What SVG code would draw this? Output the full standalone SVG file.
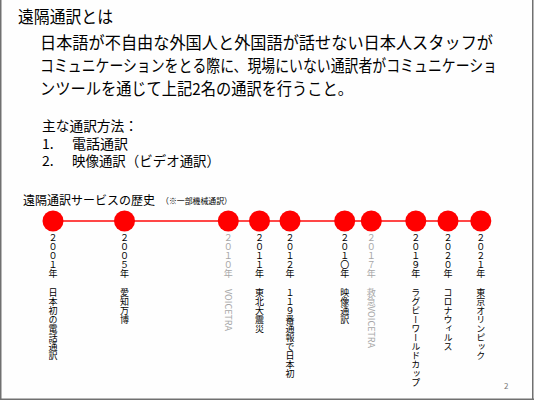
<svg xmlns="http://www.w3.org/2000/svg" width="534" height="400" viewBox="0 0 534 400">
<style>
text{font-family:"Meiryo UI","Noto Sans CJK JP","Noto Sans",sans-serif;fill:#000}
.body{font-size:16.5px}
.mid{font-size:14px}
.v{font-size:9px;writing-mode:vertical-rl;text-anchor:start}
.g{fill:#a6a6a6}
.dot{fill:#ff0000}
</style>
<rect x="0" y="0" width="534" height="400" fill="#fefefe"/>
<g id="frame" stroke="#707070" stroke-width="1.5" fill="none">
<line x1="0.75" y1="0" x2="0.75" y2="400"/>
<line x1="532.75" y1="0" x2="532.75" y2="400"/>
<line x1="0" y1="399.25" x2="534" y2="399.25"/>
</g>
<g id="intro">
<text class="body" x="18" y="23" textLength="95" lengthAdjust="spacingAndGlyphs">遠隔通訳とは</text>
<text class="body" x="40" y="49" textLength="453" lengthAdjust="spacingAndGlyphs">日本語が不自由な外国人と外国語が話せない日本人スタッフが</text>
<text class="body" x="40" y="72" textLength="457" lengthAdjust="spacingAndGlyphs">コミュニケーションをとる際に、現場にいない通訳者がコミュニケーショ</text>
<text class="body" x="40" y="95" textLength="313" lengthAdjust="spacingAndGlyphs">ンツールを通じて上記2名の通訳を行うこと。</text>
</g>
<g id="methods">
<text class="mid" x="42" y="131" textLength="96" lengthAdjust="spacingAndGlyphs">主な通訳方法：</text>
<text class="mid" x="42" y="149">1.</text>
<text class="mid" x="72" y="149" textLength="56" lengthAdjust="spacingAndGlyphs">電話通訳</text>
<text class="mid" x="42" y="166">2.</text>
<text class="mid" x="72" y="166" textLength="148" lengthAdjust="spacingAndGlyphs">映像通訳（ビデオ通訳）</text>
</g>
<g id="history-title">
<text x="23" y="205" style="font-size:12.5px" textLength="132" lengthAdjust="spacingAndGlyphs">遠隔通訳サービスの歴史</text>
<text x="161" y="204" style="font-size:8px" textLength="71" lengthAdjust="spacingAndGlyphs">（※一部機械通訳）</text>
</g>
<g id="connectors">
<line x1="53" y1="221" x2="481" y2="221" stroke="#ff4747" stroke-width="2"/>
</g>
<g id="e2001"><circle class="dot" cx="53" cy="221" r="10.5"/><text class="v" x="53" y="233">２００１年</text><text class="v" x="53" y="288">日本初の電話通訳</text></g>
<g id="e2005"><circle class="dot" cx="124.5" cy="221" r="10.5"/><text class="v" x="124.5" y="233">２００５年</text><text class="v" x="124.5" y="288">愛知万博</text></g>
<g id="e2010"><circle class="dot" cx="228.3" cy="221" r="10.5"/><text class="v g" x="228.3" y="233">２０１０年</text><text class="v g" x="228.3" y="289">VOICETRA</text></g>
<g id="e2011"><circle class="dot" cx="259.5" cy="221" r="10.5"/><text class="v" x="259.5" y="233">２０１１年</text><text class="v" x="259.5" y="288">東北大震災</text></g>
<g id="e2012"><circle class="dot" cx="290" cy="221" r="10.5"/><text class="v" x="290" y="233">２０１２年</text><text class="v" x="290" y="288">１１９番通報で日本初</text></g>
<g id="e201x"><circle class="dot" cx="344.7" cy="221" r="10.5"/><text class="v" x="344.7" y="233">２０１〇年</text><text class="v" x="344.7" y="288">映像通訳</text></g>
<g id="e2017"><circle class="dot" cx="371.3" cy="221" r="10.5"/><text class="v g" x="371.3" y="233">２０１７年</text><text class="v g" x="371.3" y="288">救急VOICETRA</text></g>
<g id="e2019"><circle class="dot" cx="415.8" cy="221" r="10.5"/><text class="v" x="415.8" y="233">２０１９年</text><text class="v" x="415.8" y="288">ラグビーワールドカップ</text></g>
<g id="e2020"><circle class="dot" cx="448" cy="221" r="10.5"/><text class="v" x="448" y="233">２０２０年</text><text class="v" x="448" y="288">コロナウィルス</text></g>
<g id="e2021"><circle class="dot" cx="480.8" cy="221" r="10.5"/><text class="v" x="480.8" y="233">２０２１年</text><text class="v" x="480.8" y="288">東京オリンピック</text></g>
<g id="page"><text x="504" y="389" style="font-size:8px;fill:#777">2</text></g>
</svg>
